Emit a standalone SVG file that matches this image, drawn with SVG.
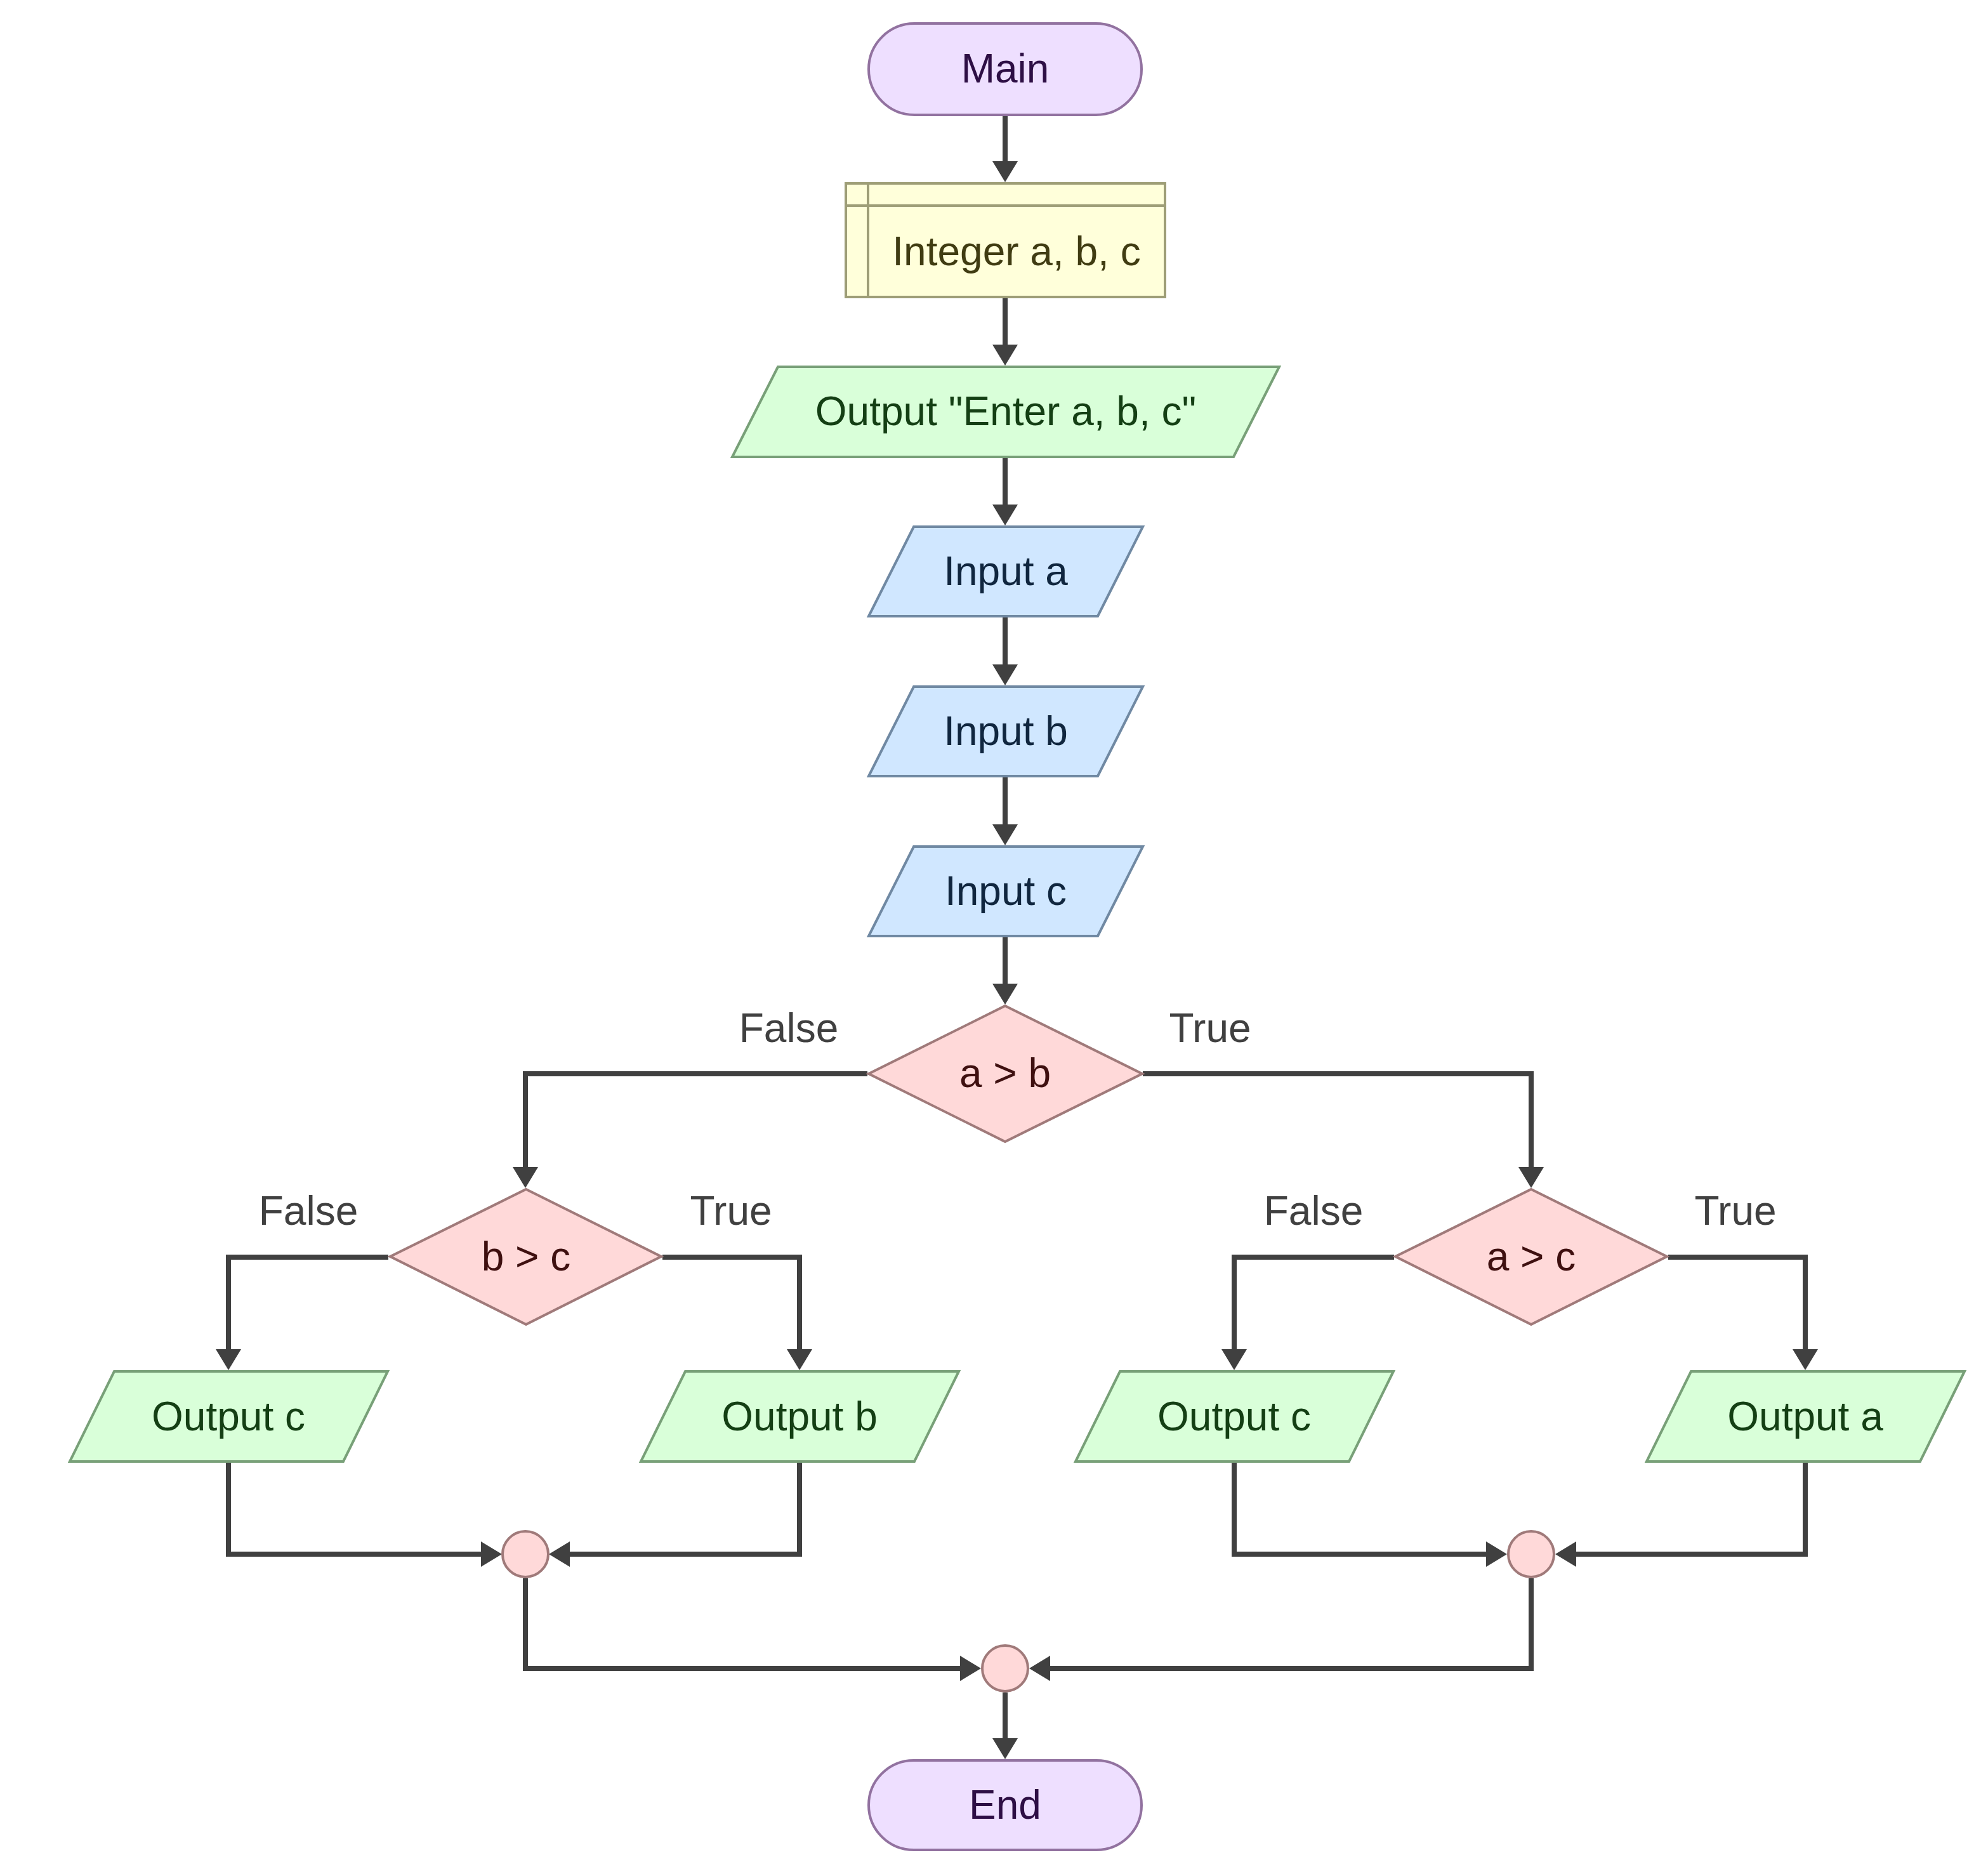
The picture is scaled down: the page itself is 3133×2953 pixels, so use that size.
<svg xmlns="http://www.w3.org/2000/svg" width="3133" height="2953" viewBox="0 0 3133 2953">
  <style>
    text { font-family: "Liberation Sans", Arial, sans-serif; font-size: 64px; text-anchor: middle; }
    .term { fill: #EEDFFF; stroke: #9272A0; stroke-width: 4; }
    .term-t { fill: #2E0F45; }
    .decl { fill: #FFFFDA; stroke: #9E9E77; stroke-width: 4; }
    .decl-t { fill: #403C12; }
    .out { fill: #D9FFD9; stroke: #78A078; stroke-width: 4; }
    .out-t { fill: #143F14; }
    .in { fill: #D0E7FF; stroke: #7089A3; stroke-width: 4; }
    .in-t { fill: #10263F; }
    .dec { fill: #FFD9D9; stroke: #A07A7A; stroke-width: 4; }
    .dec-t { fill: #3F1010; }
    .edge { fill: none; stroke: #404040; stroke-width: 8; marker-end: url(#arrow); }
    .lbl { fill: #404040; }
  </style>
  <defs>
    <marker id="arrow" markerUnits="userSpaceOnUse" markerWidth="33" markerHeight="40" refX="0" refY="20" orient="auto" viewBox="0 0 33 40">
      <path d="M0,0 L33,20 L0,40 Z" fill="#404040"/>
    </marker>
  </defs>

  <rect width="3133" height="2953" fill="#FFFFFF"/>

  <!-- connectors: each path stops one arrowhead length short of the target -->
  <g id="connectors">
    <path class="edge" d="M1584,182 L1584,254"/>
    <path class="edge" d="M1584,470 L1584,543"/>
    <path class="edge" d="M1584,722 L1584,795"/>
    <path class="edge" d="M1584,973 L1584,1047"/>
    <path class="edge" d="M1584,1225 L1584,1299"/>
    <path class="edge" d="M1584,1477 L1584,1550"/>
    <path class="edge" d="M1367,1692 L828,1692 L828,1839"/>
    <path class="edge" d="M1801,1692 L2413,1692 L2413,1839"/>
    <path class="edge" d="M612,1981 L360,1981 L360,2126"/>
    <path class="edge" d="M1044,1981 L1260,1981 L1260,2126"/>
    <path class="edge" d="M2197,1981 L1945,1981 L1945,2126"/>
    <path class="edge" d="M2629,1981 L2845,1981 L2845,2126"/>
    <path class="edge" d="M360,2305 L360,2449 L758,2449"/>
    <path class="edge" d="M1260,2305 L1260,2449 L898,2449"/>
    <path class="edge" d="M1945,2305 L1945,2449 L2342,2449"/>
    <path class="edge" d="M2845,2305 L2845,2449 L2484,2449"/>
    <path class="edge" d="M828,2487 L828,2629 L1513,2629"/>
    <path class="edge" d="M2413,2487 L2413,2629 L1655,2629"/>
    <path class="edge" d="M1584,2667 L1584,2739"/>
    <text class="lbl" x="1243" y="1642">False</text>
    <text class="lbl" x="1907" y="1642">True</text>
    <text class="lbl" x="486" y="1930">False</text>
    <text class="lbl" x="1152" y="1930">True</text>
    <text class="lbl" x="2070" y="1930">False</text>
    <text class="lbl" x="2735" y="1930">True</text>
  </g>

  <g id="main">
    <rect class="term" x="1369" y="37" width="430" height="144" rx="72" ry="72"/>
    <text class="term-t" x="1584" y="130">Main</text>
  </g>

  <g id="declare">
    <rect class="decl" x="1333" y="289" width="503" height="179"/>
    <line class="decl" x1="1333" y1="324" x2="1836" y2="324"/>
    <line class="decl" x1="1368" y1="289" x2="1368" y2="468"/>
    <text class="decl-t" x="1602" y="418">Integer a, b, c</text>
  </g>

  <g id="prompt">
    <polygon class="out" points="1226,578 2016,578 1944,720 1154,720"/>
    <text class="out-t" x="1585" y="670">Output "Enter a, b, c"</text>
  </g>

  <g id="input-a">
    <polygon class="in" points="1440,830 1801,830 1730,971 1369,971"/>
    <text class="in-t" x="1585" y="922">Input a</text>
  </g>

  <g id="input-b">
    <polygon class="in" points="1440,1082 1801,1082 1730,1223 1369,1223"/>
    <text class="in-t" x="1585" y="1174">Input b</text>
  </g>

  <g id="input-c">
    <polygon class="in" points="1440,1334 1801,1334 1730,1475 1369,1475"/>
    <text class="in-t" x="1585" y="1426">Input c</text>
  </g>

  <g id="a-gt-b">
    <polygon class="dec" points="1584,1585 1800,1692 1584,1799 1369,1692"/>
    <text class="dec-t" x="1584" y="1713">a &gt; b</text>
  </g>

  <g id="b-gt-c">
    <polygon class="dec" points="829,1874 1042,1980 829,2087 615,1980"/>
    <text class="dec-t" x="829" y="2002">b &gt; c</text>
  </g>

  <g id="a-gt-c">
    <polygon class="dec" points="2413,1874 2627,1980 2413,2087 2199,1980"/>
    <text class="dec-t" x="2413" y="2002">a &gt; c</text>
  </g>

  <g id="output-c-left">
    <polygon class="out" points="180,2161 611,2161 541,2303 110,2303"/>
    <text class="out-t" x="360" y="2254">Output c</text>
  </g>

  <g id="output-b">
    <polygon class="out" points="1080,2161 1511,2161 1441,2303 1010,2303"/>
    <text class="out-t" x="1260" y="2254">Output b</text>
  </g>

  <g id="output-c-right">
    <polygon class="out" points="1765,2161 2196,2161 2126,2303 1695,2303"/>
    <text class="out-t" x="1945" y="2254">Output c</text>
  </g>

  <g id="output-a">
    <polygon class="out" points="2665,2161 3096,2161 3026,2303 2595,2303"/>
    <text class="out-t" x="2845" y="2254">Output a</text>
  </g>

  <g id="join-left">
    <circle class="dec" cx="828" cy="2449" r="36"/>
  </g>

  <g id="join-right">
    <circle class="dec" cx="2413" cy="2449" r="36"/>
  </g>

  <g id="join-final">
    <circle class="dec" cx="1584" cy="2629" r="36"/>
  </g>

  <g id="end">
    <rect class="term" x="1369" y="2774" width="430" height="141" rx="71" ry="71"/>
    <text class="term-t" x="1584" y="2866">End</text>
  </g>
</svg>
